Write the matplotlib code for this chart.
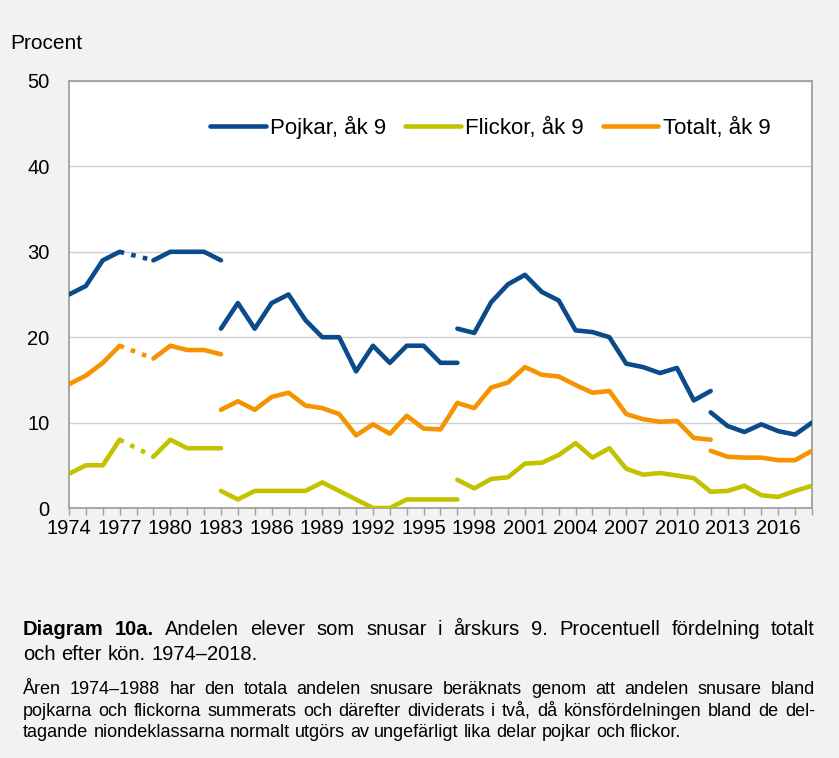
import matplotlib
matplotlib.use("Agg")
import matplotlib.pyplot as plt
from matplotlib.font_manager import FontProperties
import numpy as np

plt.rcParams['font.family'] = ['Liberation Sans', 'DejaVu Sans']

# --- data (procent) ---
# segment 1: 1974-1983 (1978 missing, bridged with a dotted line)
seg1_years = [1974, 1975, 1976, 1977, 1978, 1979, 1980, 1981, 1982, 1983]
seg1_boys = [25, 26, 29, 30, np.nan, 29, 30, 30, 30, 29]
seg1_girls = [4, 5, 5, 8, np.nan, 6, 8, 7, 7, 7]
seg1_total = [14.5, 15.5, 17, 19, np.nan, 17.5, 19, 18.5, 18.5, 18]

# segment 2: 1983-1997
seg2_years = list(range(1983, 1998))
seg2_boys = [21, 24, 21, 24, 25, 22, 20, 20, 16, 19, 17, 19, 19, 17, 17]
seg2_girls = [2, 1, 2, 2, 2, 2, 3, 2, 1, 0, 0, 1, 1, 1, 1]
seg2_total = [11.5, 12.5, 11.5, 13, 13.5, 12, 11.7, 11, 8.5, 9.8, 8.7, 10.8, 9.3, 9.2, 12.3]

# segment 3: 1997-2012
seg3_years = list(range(1997, 2013))
seg3_boys = [21, 20.5, 24.1, 26.2, 27.3, 25.3, 24.3, 20.8, 20.6, 20.0, 16.9, 16.5, 15.8, 16.4, 12.6, 13.7]
seg3_girls = [3.3, 2.3, 3.4, 3.6, 5.2, 5.3, 6.2, 7.6, 5.9, 7.0, 4.6, 3.9, 4.1, 3.8, 3.5, 1.9]
seg3_total = [12.3, 11.7, 14.1, 14.7, 16.5, 15.6, 15.4, 14.4, 13.5, 13.7, 11.0, 10.4, 10.1, 10.2, 8.2, 8.0]

# segment 4: 2012-2018
seg4_years = list(range(2012, 2019))
seg4_boys = [11.2, 9.6, 8.9, 9.8, 9.0, 8.6, 10.0]
seg4_girls = [1.9, 2.0, 2.6, 1.5, 1.3, 2.0, 2.6]
seg4_total = [6.7, 6.0, 5.9, 5.9, 5.6, 5.6, 6.7]

labels = ['Pojkar, åk 9', 'Flickor, åk 9', 'Totalt, åk 9']
colors = ['#0b4a8b', '#c2c200', '#f59300']
tick_years = list(range(1974, 2017, 3))

bg = '#f2f2f2'
W, H = 839, 758
fig = plt.figure(figsize=(W / 100, H / 100), dpi=100, facecolor=bg)
ax = fig.add_axes([69 / W, 1 - 508 / H, (812 - 69) / W, (508 - 81) / H])
ax.set_facecolor('white')

segments = [
    (seg1_years, [seg1_boys, seg1_girls, seg1_total]),
    (seg2_years, [seg2_boys, seg2_girls, seg2_total]),
    (seg3_years, [seg3_boys, seg3_girls, seg3_total]),
    (seg4_years, [seg4_boys, seg4_girls, seg4_total]),
]

lw = 3.3
for years, series in segments:
    for i, vals in enumerate(series):
        ax.plot(years, vals, color=colors[i], lw=lw,
                solid_capstyle='round', solid_joinstyle='round', zorder=3)

# dotted bridge over missing 1978
for i, vals in enumerate(segments[0][1]):
    y0 = vals[seg1_years.index(1977)]
    y1 = vals[seg1_years.index(1979)]
    ax.plot([1977, 1979], [y0, y1], color=colors[i], lw=lw,
            linestyle=(0, (1.0, 1.6)), dash_capstyle='butt', zorder=3)

ax.set_xlim(1974, 2018)
ax.set_ylim(0, 50)
ax.set_yticks(range(0, 51, 10))
ax.set_xticks(tick_years)
ax.set_xticks(range(1974, 2019), minor=True)
ax.tick_params(axis='x', which='both', length=5, width=1, color='#a0a0a0',
               labelsize=14.5, pad=3)
ax.tick_params(axis='y', length=0, labelsize=14.5, pad=14)
ax.grid(axis='y', color='#d0d0d0', lw=1, zorder=1)
for s in ax.spines.values():
    s.set_color('#a0a0a0')
    s.set_linewidth(1.3)

leg_lines = [plt.Line2D([], [], color=c, lw=lw, solid_capstyle='round') for c in colors]
ax.legend(leg_lines, labels, ncol=3, frameon=False, fontsize=16,
          loc='center', bbox_to_anchor=(0.567, 0.892),
          handlelength=2.5, handletextpad=0.2, columnspacing=0.85)

fig.text(10 / W, 1 - 49 / H, 'Procent', fontsize=15, ha='left', va='baseline')

# --- caption, justified like the original ---
renderer = fig.canvas.get_renderer()


def text_line(words, y_px, x0=23, x1=815, size=12.5, justify=True):
    widths = []
    for w, bold in words:
        fp = FontProperties(family=['Liberation Sans'], size=size,
                            weight='bold' if bold else 'normal')
        wd, _, _ = renderer.get_text_width_height_descent(w, fp, ismath=False)
        widths.append(wd)
    total = sum(widths)
    if justify and len(words) > 1:
        gap = (x1 - x0 - total) / (len(words) - 1)
    else:
        gap = size * 100 / 72 * 0.28
    x = x0
    for (w, bold), wd in zip(words, widths):
        fig.text(x / W, 1 - y_px / H, w, fontsize=size,
                 fontweight='bold' if bold else 'normal',
                 ha='left', va='baseline')
        x += wd + gap


def words_of(s, bold=False):
    return [(w, bold) for w in s.split()]


text_line(words_of('Diagram 10a.', True)
          + words_of('Andelen elever som snusar i årskurs 9. Procentuell fördelning totalt'),
          635, size=14.5)
text_line(words_of('och efter kön. 1974–2018.'), 660, size=14.5, justify=False)
text_line(words_of('Åren 1974–1988 har den totala andelen snusare beräknats genom att andelen snusare bland'),
          694, size=13)
text_line(words_of('pojkarna och flickorna summerats och därefter dividerats i två, då könsfördelningen bland de del-'),
          715.5, size=13)
text_line(words_of('tagande niondeklassarna normalt utgörs av ungefärligt lika delar pojkar och flickor.'),
          737, size=13, justify=False)

fig.savefig('out.png', dpi=100, facecolor=bg)
